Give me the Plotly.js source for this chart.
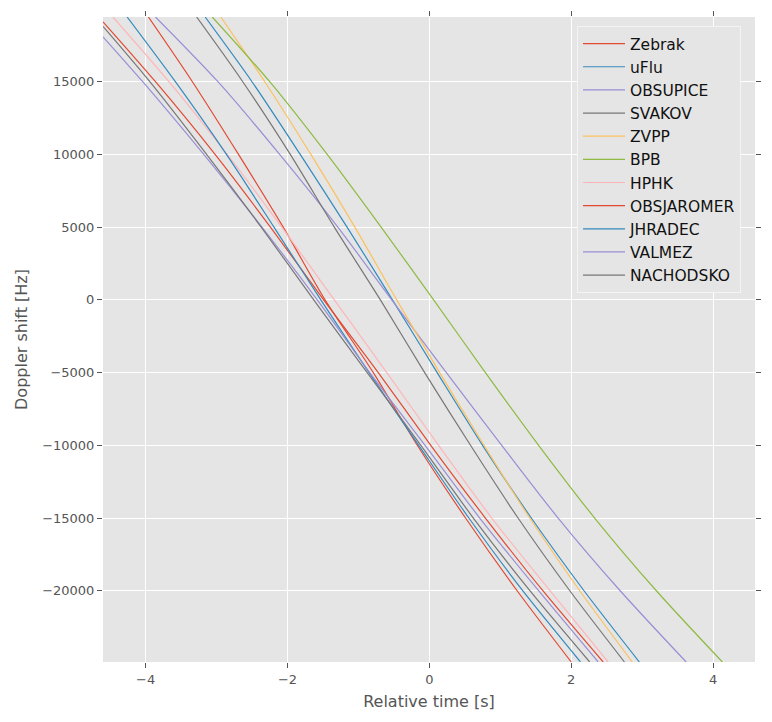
<!DOCTYPE html>
<html>
<head>
<meta charset="utf-8">
<script src="https://cdn.plot.ly/plotly-3.0.1.min.js"></script>
<style>
  html, body { margin: 0; padding: 0; background: white; }
  #chart { width: 772px; height: 722px; }
</style>
</head>
<body>
<div id="chart"></div>
<script>
  // ggplot-style colour cycle (repeats after 7 stations).
  const COLOURS = [
    "#E24A33", "#348ABD", "#988ED5", "#777777", "#FBC15E", "#8EBA42", "#FFB5B8",
  ];
  const STATIONS = [
    "Zebrak", "uFlu", "OBSUPICE", "SVAKOV", "ZVPP", "BPB", "HPHK",
    "OBSJAROMER", "JHRADEC", "VALMEZ", "NACHODSKO",
  ];

  // Doppler levels [Hz] the curves were read at (top edge → bottom edge).
  const fTop = [19450, 15000, 10000, 5000, 0, -5000, -10000, -15000, -20000, -24900];
  const fJaromer = [19120, 15000, 10000, 5000, 0, -5000, -10000, -15000, -20000, -24900];
  const fValmez = [18090, 15000, 10000, 5000, 0, -5000, -10000, -15000, -20000, -24900];
  const fNachodsko = [18800, 15000, 10000, 5000, 0, -5000, -10000, -15000, -20000, -24900];

  // Relative time [s] where each station's curve crosses those levels.
  const tZebrak = [-3.96, -3.34, -2.69, -2.06, -1.47, -0.79, -0.17, 0.51, 1.237, 2.0];
  const tUflu = [-3.16, -2.50, -1.82, -1.16, -0.52, 0.11, 0.75, 1.437, 2.18, 2.96];
  const tObsupice = [-3.86, -2.98, -2.11, -1.29, -0.53, 0.24, 1.02, 1.815, 2.69, 3.62];
  const tSvakov = [-3.28, -2.63, -1.96, -1.34, -0.69, -0.066, 0.58, 1.25, 1.98, 2.75];
  const tZvpp = [-2.94, -2.32, -1.67, -1.05, -0.46, 0.145, 0.77, 1.415, 2.12, 2.86];
  const tBpb = [-3.06, -2.25, -1.44, -0.68, 0.06, 0.79, 1.54, 2.33, 3.20, 4.13];
  const tHphk = [-4.46, -3.67, -2.85, -2.08, -1.34, -0.60, 0.13, 0.88, 1.70, 2.52];
  const tJaromer = [-4.6, -3.86, -3.02, -2.24, -1.49, -0.72, 0.02, 0.79, 1.60, 2.45];
  const tJhradec = [-4.26, -3.58, -2.86, -2.19, -1.53, -0.85, -0.15, 0.557, 1.316, 2.13];
  const tValmez = [-4.6, -4.04, -3.18, -2.36, -1.58, -0.84, -0.06, 0.71, 1.54, 2.38];
  const tNachodsko = [-4.6, -3.94, -3.14, -2.37, -1.63, -0.876, -0.12, 0.62, 1.417, 2.26];

  const X_RANGE = [-4.6, 4.59];
  const Y_RANGE = [-24900, 19450];

  const series = [
    [tZebrak, fTop], [tUflu, fTop], [tObsupice, fTop], [tSvakov, fTop],
    [tZvpp, fTop], [tBpb, fTop], [tHphk, fTop], [tJaromer, fJaromer],
    [tJhradec, fTop], [tValmez, fValmez], [tNachodsko, fNachodsko],
  ];

  const traces = series.map(([t, f], i) => ({
    type: "scatter",
    mode: "lines",
    name: STATIONS[i],
    x: t,
    y: f,
    line: { color: COLOURS[i % COLOURS.length], width: 1.2, shape: "spline", smoothing: 0.8 },
    hoverinfo: "skip",
  }));

  const axisCommon = {
    showgrid: true,
    gridcolor: "#FFFFFF",
    gridwidth: 1,
    zeroline: false,
    showline: false,
    ticks: "outside",
    ticklen: 5,
    tickwidth: 1,
    tickcolor: "#555555",
    mirror: "ticks",
    tickfont: { family: "DejaVu Sans, sans-serif", size: 13, color: "#555555" },
  };

  const layout = {
    width: 772,
    height: 722,
    margin: { l: 103, r: 17, t: 17, b: 60 },
    paper_bgcolor: "white",
    plot_bgcolor: "#E5E5E5",
    font: { family: "DejaVu Sans, sans-serif", size: 13, color: "#555555" },
    showlegend: true,
    legend: {
      x: 0.727, y: 0.986, xanchor: "left", yanchor: "top",
      bgcolor: "#E5E5E5",
      bordercolor: "#F4F4F4",
      borderwidth: 1,
      itemwidth: 42,
      font: { family: "DejaVu Sans, sans-serif", size: 15.5, color: "#111111" },
      tracegroupgap: 0,
    },
    xaxis: {
      ...axisCommon,
      range: X_RANGE,
      tickvals: [-4, -2, 0, 2, 4],
      title: { text: "Relative time [s]", font: { size: 16, color: "#555555" }, standoff: 10 },
    },
    yaxis: {
      ...axisCommon,
      range: Y_RANGE,
      tickvals: [-20000, -15000, -10000, -5000, 0, 5000, 10000, 15000],
      tickformat: "d",
      title: { text: "Doppler shift [Hz]", font: { size: 16, color: "#555555" }, standoff: 10 },
    },
  };

  Plotly.newPlot("chart", traces, layout, { displayModeBar: false, staticPlot: true });
</script>
</body>
</html>
